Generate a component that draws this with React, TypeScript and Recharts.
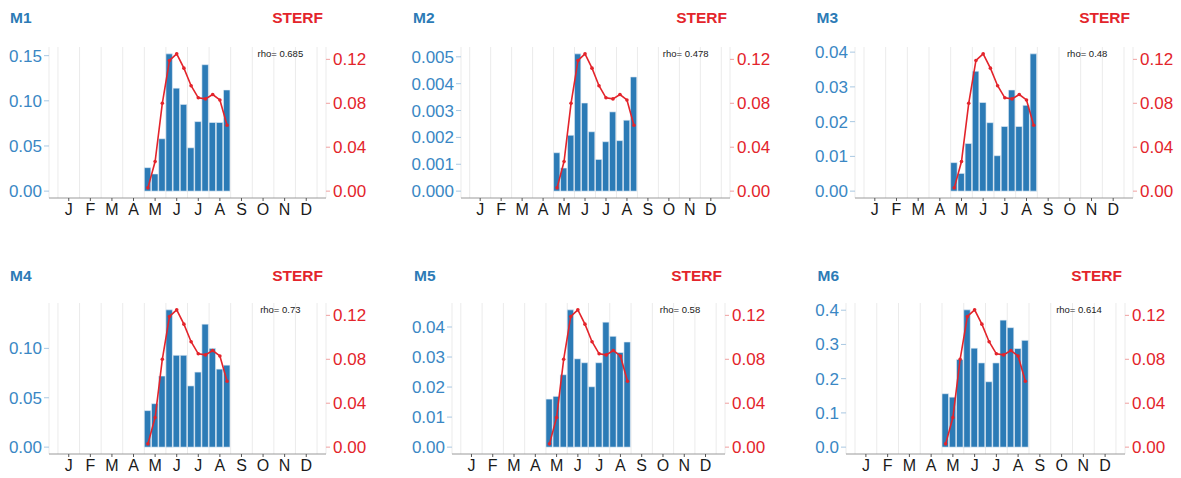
import React from "react";
import {
  ComposedChart,
  Bar,
  Line,
  XAxis,
  YAxis,
  CartesianGrid,
  ReferenceDot,
} from "recharts";

// ─── Data ─────────────────────────────────────────────────────────────────────

const MONTHS = ["J", "F", "M", "A", "M", "J", "J", "A", "S", "O", "N", "D"];

// dekads of the year (0-based, 3 per month): 1 May ... 21 Aug
const DEKADS = [12, 13, 14, 15, 16, 17, 18, 19, 20, 21, 22, 23];

const STERF = [0.003, 0.027, 0.08, 0.119, 0.125, 0.112, 0.096, 0.085, 0.084, 0.088, 0.083, 0.06];

const M1 = [0.026, 0.019, 0.058, 0.152, 0.114, 0.096, 0.048, 0.077, 0.14, 0.076, 0.076, 0.112];
const M2 = [0.00143, 0.00086, 0.00208, 0.00511, 0.00328, 0.00221, 0.00118, 0.00184, 0.00295, 0.00188, 0.00264, 0.00425];
const M3 = [0.0082, 0.0051, 0.0137, 0.0345, 0.0255, 0.0197, 0.0102, 0.0186, 0.0291, 0.0186, 0.0247, 0.0395];
const M4 = [0.037, 0.044, 0.072, 0.139, 0.093, 0.093, 0.062, 0.076, 0.1245, 0.1, 0.079, 0.083];
const M5 = [0.016, 0.0169, 0.0241, 0.0457, 0.0294, 0.0281, 0.0201, 0.0281, 0.0416, 0.0369, 0.0315, 0.035];
const M6 = [0.156, 0.146, 0.256, 0.401, 0.289, 0.246, 0.191, 0.246, 0.371, 0.349, 0.288, 0.312];

const TICKS_M1 = [0, 0.05, 0.1, 0.15];
const TICKS_M2 = [0, 0.001, 0.002, 0.003, 0.004, 0.005];
const TICKS_M3 = [0, 0.01, 0.02, 0.03, 0.04];
const TICKS_M4 = [0, 0.05, 0.1];
const TICKS_M5 = [0, 0.01, 0.02, 0.03, 0.04];
const TICKS_M6 = [0, 0.1, 0.2, 0.3, 0.4];
const TICKS_STERF = [0, 0.04, 0.08, 0.12];

const RHO = ["0.685", "0.478", "0.48", "0.73", "0.58", "0.614"];

// ─── Style ────────────────────────────────────────────────────────────────────

const BLUE = "#2c7bb6";
const BLUE_TEXT = "#3a87c4";
const RED = "#e3242b";
const FONT = "'Liberation Sans', Arial, Helvetica, sans-serif";

const X_DOMAIN: [number, number] = [-0.415, 12.415];
const MONTH_CENTERS = MONTHS.map((_, i) => i + 0.5);
const MONTH_EDGES = [0, 1, 2, 3, 4, 5, 6, 7, 8, 9, 10, 11, 12];

const Y_W = 55;
const R_W = 50;
const M_TOP = 7;
const PLOT_H = 151;
const X_H = 30;

interface PanelCfg {
  title: string;
  values: number[];
  ticks: number[];
  digits: number;
  rho: string;
  left: number;
  right: number;
  top: number;
  titleX: number;
  titleY: number;
}

// left / right / top = edges of the plotting panel
const PANELS: PanelCfg[] = [
  { title: "M1", values: M1, ticks: TICKS_M1, digits: 2, rho: RHO[0], left: 49, right: 326, top: 46.8, titleX: 10, titleY: 9.7 },
  { title: "M2", values: M2, ticks: TICKS_M2, digits: 3, rho: RHO[1], left: 461, right: 730, top: 46.8, titleX: 413, titleY: 9.7 },
  { title: "M3", values: M3, ticks: TICKS_M3, digits: 2, rho: RHO[2], left: 855, right: 1133, top: 46.8, titleX: 816.5, titleY: 9.7 },
  { title: "M4", values: M4, ticks: TICKS_M4, digits: 2, rho: RHO[3], left: 49, right: 326, top: 303.3, titleX: 10, titleY: 268.3 },
  { title: "M5", values: M5, ticks: TICKS_M5, digits: 2, rho: RHO[4], left: 452, right: 725, top: 303.3, titleX: 414, titleY: 268.3 },
  { title: "M6", values: M6, ticks: TICKS_M6, digits: 1, rho: RHO[5], left: 846, right: 1125, top: 303.3, titleX: 817.5, titleY: 268.3 },
];

// ─── Panel ────────────────────────────────────────────────────────────────────

function Panel({ cfg }: { cfg: PanelCfg }) {
  const plotW = cfg.right - cfg.left;
  const barMax = Math.max(...cfg.values);
  const lineMax = Math.max(...STERF);
  const barSize = plotW / (X_DOMAIN[1] - X_DOMAIN[0]) / 3;
  const data = DEKADS.map((d, i) => ({
    x: (d + 0.5) / 3,
    value: cfg.values[i],
    sterf: STERF[i],
  }));

  return (
    <>
      <div
        style={{
          position: "absolute",
          left: cfg.titleX,
          top: cfg.titleY,
          fontSize: 15.5,
          lineHeight: "15.5px",
          fontWeight: 700,
          color: BLUE,
        }}
      >
        {cfg.title}
      </div>
      <div
        style={{
          position: "absolute",
          left: cfg.right - 3 - 120,
          width: 120,
          top: cfg.titleY,
          textAlign: "right",
          fontSize: 15.5,
          lineHeight: "15.5px",
          fontWeight: 700,
          color: RED,
        }}
      >
        STERF
      </div>
      <div style={{ position: "absolute", left: cfg.left - Y_W, top: cfg.top - M_TOP }}>
        <ComposedChart
          width={Y_W + plotW + R_W}
          height={M_TOP + PLOT_H + X_H}
          data={data}
          margin={{ top: M_TOP, right: 0, bottom: 0, left: 0 }}
        >
          <CartesianGrid xAxisId="grid" yAxisId="left" horizontal={false} stroke="#ebebeb" strokeWidth={1} />
          <XAxis
            xAxisId="grid"
            type="number"
            dataKey="x"
            domain={X_DOMAIN}
            ticks={MONTH_EDGES}
            interval={0}
            hide
          />
          <XAxis
            type="number"
            dataKey="x"
            domain={X_DOMAIN}
            ticks={MONTH_CENTERS}
            interval={0}
            height={X_H}
            tickFormatter={(v: number) => MONTHS[Math.floor(v)]}
            axisLine={{ stroke: "#9a9a9a", strokeWidth: 1 }}
            tickLine={{ stroke: "#555" }}
            tickSize={3}
            tickMargin={3}
            tick={{ fill: "#1a1a1a", fontSize: 16, fontFamily: FONT }}
          />
          <YAxis
            yAxisId="left"
            orientation="left"
            type="number"
            width={Y_W}
            domain={[-0.05 * barMax, 1.05 * barMax]}
            ticks={cfg.ticks}
            interval={0}
            axisLine={false}
            tickLine={{ stroke: "#a9c8e2" }}
            tickSize={5}
            tickMargin={2}
            tickFormatter={(v: number) => v.toFixed(cfg.digits)}
            tick={{ fill: BLUE_TEXT, fontSize: 17, fontFamily: FONT }}
          />
          <YAxis
            yAxisId="right"
            orientation="right"
            type="number"
            width={R_W}
            domain={[-0.05 * lineMax, 1.05 * lineMax]}
            ticks={TICKS_STERF}
            interval={0}
            axisLine={false}
            tickLine={{ stroke: "#f0a0a0" }}
            tickSize={4}
            tickMargin={3}
            tickFormatter={(v: number) => v.toFixed(2)}
            tick={{ fill: RED, fontSize: 17, fontFamily: FONT }}
          />
          <Bar
            yAxisId="left"
            dataKey="value"
            fill={BLUE}
            stroke="#e6eef6"
            strokeWidth={0.6}
            barSize={barSize}
            isAnimationActive={false}
          />
          <Line
            yAxisId="right"
            type="linear"
            dataKey="sterf"
            stroke={RED}
            strokeWidth={1.6}
            dot={{ r: 1.8, fill: RED, stroke: RED, strokeWidth: 0 }}
            activeDot={false}
            isAnimationActive={false}
          />
          <ReferenceDot
            yAxisId="right"
            x={10.3}
            y={0.1252}
            r={1}
            fill="none"
            stroke="none"
            label={{
              value: `rho= ${cfg.rho}`,
              position: "center",
              fontSize: 9.5,
              fill: "#1a1a1a",
              fontFamily: FONT,
            }}
          />
        </ComposedChart>
      </div>
    </>
  );
}

export default function App() {
  return (
    <div
      style={{
        position: "absolute",
        left: 0,
        top: 0,
        width: 1181,
        height: 478,
        background: "#ffffff",
        fontFamily: FONT,
        overflow: "hidden",
      }}
    >
      {PANELS.map((p) => (
        <Panel key={p.title} cfg={p} />
      ))}
    </div>
  );
}
